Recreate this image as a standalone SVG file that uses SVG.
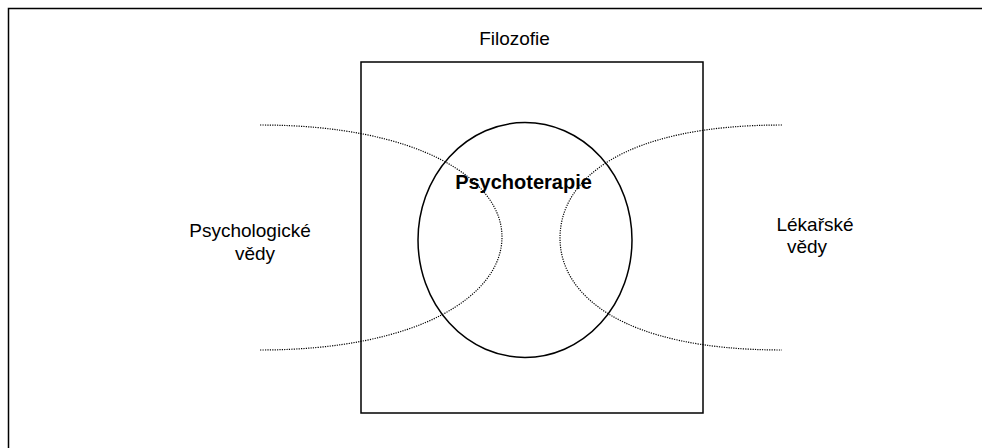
<svg xmlns="http://www.w3.org/2000/svg" width="982" height="448" viewBox="0 0 982 448">
<style>
.t{font-family:"Liberation Sans",Arial,sans-serif;font-size:19px;fill:#000;text-anchor:middle}
.b{font-weight:bold;font-size:20px}
.box{fill:none;stroke:#000;stroke-width:1.5}
.dot{fill:none;stroke:#000;stroke-width:1.2;stroke-dasharray:1.2 1.2}
</style>
<rect width="982" height="448" fill="#fff"/>
<g id="frame"><path class="box" d="M8.5,460 V8.5 H990"/></g>
<g id="filozofie">
<rect class="box" x="361" y="62" width="342" height="351"/>
<text class="t" x="514.5" y="45" font-size="19.6">Filozofie</text>
</g>
<g id="psychoterapie">
<ellipse class="box" cx="525" cy="240" rx="107" ry="117.5"/>
<text class="t b" x="523.5" y="189">Psychoterapie</text>
</g>
<g id="psychologicke">
<text class="t" x="250" y="237" font-size="18">Psychologické</text>
<text class="t" x="255" y="260" font-size="18">vědy</text>
</g>
<g id="lekarske">
<text class="t" x="815" y="231">Lékařské</text>
<text class="t" x="807" y="253">vědy</text>
</g>
<g id="connectors">
<path class="dot" d="M260,125 C420,125 502,180 502,237 C502,295 420,350 260,350"/>
<path class="dot" d="M782,125 C622,125 560,180 560,238 C560,295 622,350 782,350"/>
</g>
</svg>
